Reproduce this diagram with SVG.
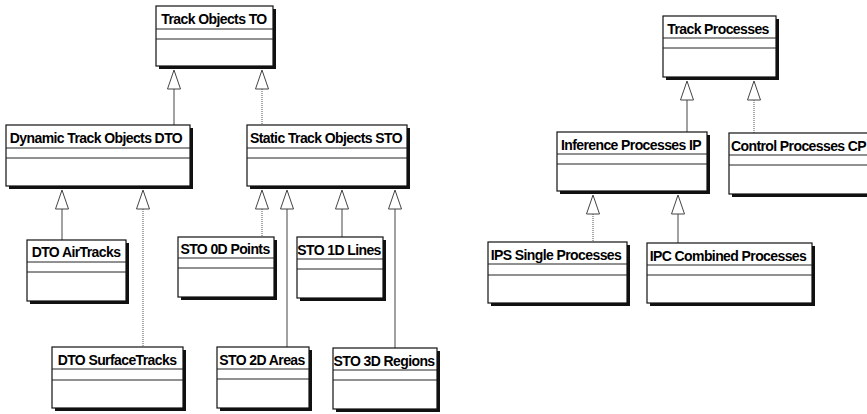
<svg xmlns="http://www.w3.org/2000/svg" width="867" height="414" viewBox="0 0 867 414">
  <style>
    .shadow { fill: #111; }
    .box { fill: #fff; stroke: #111; stroke-width: 1.2; }
    .sep { stroke: #222; stroke-width: 1; }
    .name { font-family: "Liberation Sans", Arial, sans-serif; font-weight: bold; font-size: 14px; letter-spacing: -0.6px; fill: #000; }
    .solid { stroke: #444; stroke-width: 1; fill: none; }
    .dotted { stroke: #555; stroke-width: 1; stroke-dasharray: 1 1; fill: none; }
    .head { fill: #fff; stroke: #444; stroke-width: 1; }
  </style>
  <defs>
    <!-- UML generalization head, tip at origin pointing up -->
    <polygon id="gen" class="head" points="0,0 -6.5,19 6.5,19"/>
  </defs>
  <rect width="867" height="414" fill="#fff"/>

  <!-- connectors -->
  <g id="connectors">
    <line class="solid" x1="174" y1="89" x2="174" y2="125"/>
    <use href="#gen" x="174" y="70"/>
    <line class="dotted" x1="262" y1="89" x2="262" y2="125"/>
    <use href="#gen" x="262" y="70"/>

    <line class="solid" x1="62" y1="209" x2="62" y2="240"/>
    <use href="#gen" x="62" y="190"/>
    <line class="dotted" x1="143" y1="209" x2="143" y2="347"/>
    <use href="#gen" x="143" y="190"/>

    <line class="dotted" x1="262" y1="209" x2="262" y2="237"/>
    <use href="#gen" x="262" y="190"/>
    <line class="solid" x1="287" y1="209" x2="287" y2="347"/>
    <use href="#gen" x="287" y="190"/>
    <line class="solid" x1="342" y1="209" x2="342" y2="237"/>
    <use href="#gen" x="342" y="190"/>
    <line class="solid" x1="395" y1="209" x2="395" y2="348"/>
    <use href="#gen" x="395" y="190"/>

    <line class="solid" x1="687" y1="100" x2="687" y2="132"/>
    <use href="#gen" x="687" y="81"/>
    <line class="dotted" x1="754" y1="100" x2="754" y2="133"/>
    <use href="#gen" x="754" y="81"/>

    <line class="dotted" x1="593" y1="214" x2="593" y2="242"/>
    <use href="#gen" x="593" y="195"/>
    <line class="solid" x1="678" y1="214" x2="678" y2="243"/>
    <use href="#gen" x="678" y="195"/>
  </g>

  <!-- class boxes: shadow, frame, name compartment, two empty compartments -->
  <g id="track-objects-to">
    <rect class="shadow" x="159" y="9" width="117" height="60"/>
    <rect class="box" x="156" y="6" width="117" height="60"/>
    <line class="sep" x1="156" y1="29" x2="273" y2="29"/>
    <line class="sep" x1="156" y1="39" x2="273" y2="39"/>
    <text class="name" x="214" y="24" text-anchor="middle">Track Objects TO</text>
  </g>

  <g id="dynamic-track-objects-dto">
    <rect class="shadow" x="9" y="128" width="184" height="61"/>
    <rect class="box" x="6" y="125" width="184" height="61"/>
    <line class="sep" x1="6" y1="148" x2="190" y2="148"/>
    <line class="sep" x1="6" y1="158" x2="190" y2="158"/>
    <text class="name" x="96" y="143" text-anchor="middle">Dynamic Track Objects DTO</text>
  </g>

  <g id="static-track-objects-sto">
    <rect class="shadow" x="250" y="128" width="160" height="61"/>
    <rect class="box" x="247" y="125" width="160" height="61"/>
    <line class="sep" x1="247" y1="148" x2="407" y2="148"/>
    <line class="sep" x1="247" y1="158" x2="407" y2="158"/>
    <text class="name" x="326" y="143" text-anchor="middle">Static Track Objects STO</text>
  </g>

  <g id="dto-airtracks">
    <rect class="shadow" x="30" y="243" width="99" height="61"/>
    <rect class="box" x="27" y="240" width="99" height="61"/>
    <line class="sep" x1="27" y1="262" x2="126" y2="262"/>
    <line class="sep" x1="27" y1="272" x2="126" y2="272"/>
    <text class="name" x="76" y="257" text-anchor="middle">DTO AirTracks</text>
  </g>

  <g id="dto-surfacetracks">
    <rect class="shadow" x="55" y="350" width="131" height="61"/>
    <rect class="box" x="52" y="347" width="131" height="61"/>
    <line class="sep" x1="52" y1="369" x2="183" y2="369"/>
    <line class="sep" x1="52" y1="380" x2="183" y2="380"/>
    <text class="name" x="117" y="365" text-anchor="middle">DTO SurfaceTracks</text>
  </g>

  <g id="sto-0d-points">
    <rect class="shadow" x="181" y="240" width="96" height="60"/>
    <rect class="box" x="178" y="237" width="96" height="60"/>
    <line class="sep" x1="178" y1="258" x2="274" y2="258"/>
    <line class="sep" x1="178" y1="268" x2="274" y2="268"/>
    <text class="name" x="225" y="254" text-anchor="middle">STO 0D Points</text>
  </g>

  <g id="sto-1d-lines">
    <rect class="shadow" x="300" y="240" width="86" height="61"/>
    <rect class="box" x="297" y="237" width="86" height="61"/>
    <line class="sep" x1="297" y1="259" x2="383" y2="259"/>
    <line class="sep" x1="297" y1="269" x2="383" y2="269"/>
    <text class="name" x="339" y="255" text-anchor="middle">STO 1D Lines</text>
  </g>

  <g id="sto-2d-areas">
    <rect class="shadow" x="220" y="350" width="92" height="61"/>
    <rect class="box" x="217" y="347" width="92" height="61"/>
    <line class="sep" x1="217" y1="369" x2="309" y2="369"/>
    <line class="sep" x1="217" y1="379" x2="309" y2="379"/>
    <text class="name" x="262" y="365" text-anchor="middle">STO 2D Areas</text>
  </g>

  <g id="sto-3d-regions">
    <rect class="shadow" x="336" y="351" width="104" height="61"/>
    <rect class="box" x="333" y="348" width="104" height="61"/>
    <line class="sep" x1="333" y1="370" x2="437" y2="370"/>
    <line class="sep" x1="333" y1="380" x2="437" y2="380"/>
    <text class="name" x="384" y="366" text-anchor="middle">STO 3D Regions</text>
  </g>

  <g id="track-processes">
    <rect class="shadow" x="666" y="19" width="113" height="61"/>
    <rect class="box" x="663" y="16" width="113" height="61"/>
    <line class="sep" x1="663" y1="38" x2="776" y2="38"/>
    <line class="sep" x1="663" y1="48" x2="776" y2="48"/>
    <text class="name" x="718" y="34" text-anchor="middle">Track Processes</text>
  </g>

  <g id="inference-processes-ip">
    <rect class="shadow" x="560" y="135" width="150" height="59"/>
    <rect class="box" x="557" y="132" width="150" height="59"/>
    <line class="sep" x1="557" y1="154" x2="707" y2="154"/>
    <line class="sep" x1="557" y1="164" x2="707" y2="164"/>
    <text class="name" x="631" y="150" text-anchor="middle">Inference Processes IP</text>
  </g>

  <g id="control-processes-cp">
    <rect class="shadow" x="732" y="136" width="145" height="61"/>
    <rect class="box" x="729" y="133" width="145" height="61"/>
    <line class="sep" x1="729" y1="155" x2="874" y2="155"/>
    <line class="sep" x1="729" y1="165" x2="874" y2="165"/>
    <text class="name" x="731" y="151">Control Processes CP</text>
  </g>

  <g id="ips-single-processes">
    <rect class="shadow" x="491" y="245" width="139" height="61"/>
    <rect class="box" x="488" y="242" width="139" height="61"/>
    <line class="sep" x1="488" y1="264" x2="627" y2="264"/>
    <line class="sep" x1="488" y1="275" x2="627" y2="275"/>
    <text class="name" x="556" y="260" text-anchor="middle">IPS Single Processes</text>
  </g>

  <g id="ipc-combined-processes">
    <rect class="shadow" x="650" y="246" width="165" height="60"/>
    <rect class="box" x="647" y="243" width="165" height="60"/>
    <line class="sep" x1="647" y1="265" x2="812" y2="265"/>
    <line class="sep" x1="647" y1="275" x2="812" y2="275"/>
    <text class="name" x="728" y="261" text-anchor="middle">IPC Combined Processes</text>
  </g>
</svg>
